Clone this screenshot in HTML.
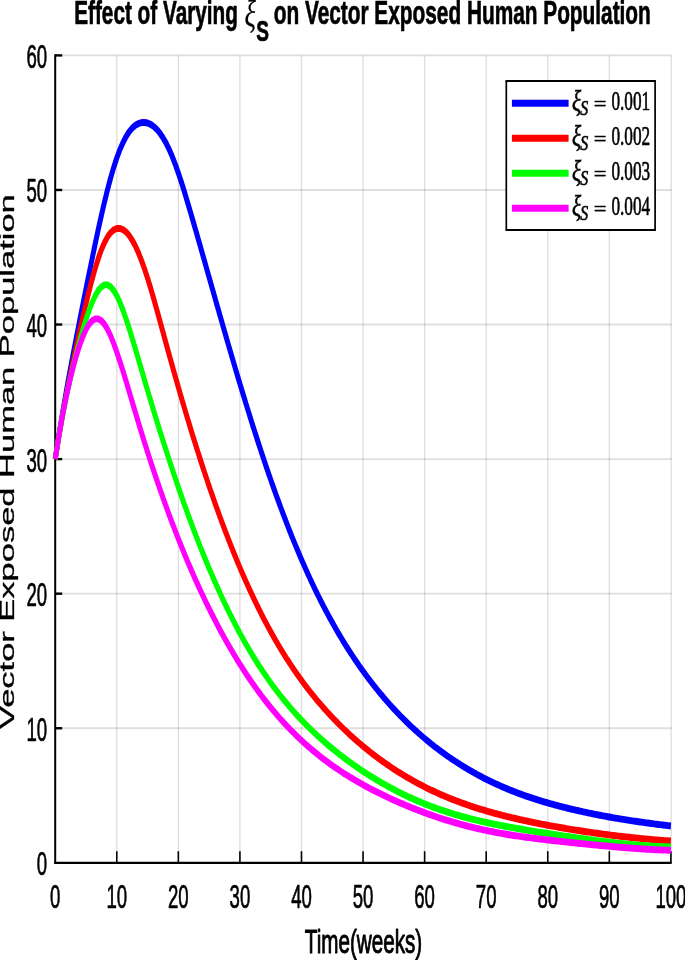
<!DOCTYPE html>
<html lang="en"><head><meta charset="utf-8"><title>Effect of Varying xi_S on Vector Exposed Human Population</title>
<style>
html,body{margin:0;padding:0;background:#fff;}
body{width:685px;height:960px;overflow:hidden;position:relative;}
svg{display:block;position:absolute;left:0;top:0;}
text{font-family:"Liberation Sans",sans-serif;fill:#000;}
.ser{font-family:"Liberation Serif",serif;}
</style></head><body>
<svg width="685" height="960" viewBox="0 0 685 960">
<rect x="0" y="0" width="685" height="960" fill="#ffffff"/>
<g stroke="#000" stroke-opacity="0.125" stroke-width="1.4" fill="none"><line x1="116.77" y1="55.40" x2="116.77" y2="862.80"/><line x1="178.34" y1="55.40" x2="178.34" y2="862.80"/><line x1="239.91" y1="55.40" x2="239.91" y2="862.80"/><line x1="301.48" y1="55.40" x2="301.48" y2="862.80"/><line x1="363.05" y1="55.40" x2="363.05" y2="862.80"/><line x1="424.62" y1="55.40" x2="424.62" y2="862.80"/><line x1="486.19" y1="55.40" x2="486.19" y2="862.80"/><line x1="547.76" y1="55.40" x2="547.76" y2="862.80"/><line x1="609.33" y1="55.40" x2="609.33" y2="862.80"/><line x1="671.20" y1="55.40" x2="671.20" y2="862.80"/></g>
<g stroke="#000" stroke-opacity="0.125" stroke-width="1.9" fill="none"><line x1="55.20" y1="728.23" x2="671.50" y2="728.23"/><line x1="55.20" y1="593.67" x2="671.50" y2="593.67"/><line x1="55.20" y1="459.10" x2="671.50" y2="459.10"/><line x1="55.20" y1="324.53" x2="671.50" y2="324.53"/><line x1="55.20" y1="189.97" x2="671.50" y2="189.97"/><line x1="55.20" y1="55.40" x2="671.50" y2="55.40"/></g>
<g stroke="#000" fill="none"><line x1="55.20" y1="54.20" x2="55.20" y2="863.90" stroke-width="2"/><line x1="54.20" y1="862.80" x2="671.70" y2="862.80" stroke-width="2.2"/><line x1="116.77" y1="862.80" x2="116.77" y2="851.20" stroke-width="1.6"/><line x1="178.34" y1="862.80" x2="178.34" y2="851.20" stroke-width="1.6"/><line x1="239.91" y1="862.80" x2="239.91" y2="851.20" stroke-width="1.6"/><line x1="301.48" y1="862.80" x2="301.48" y2="851.20" stroke-width="1.6"/><line x1="363.05" y1="862.80" x2="363.05" y2="851.20" stroke-width="1.6"/><line x1="424.62" y1="862.80" x2="424.62" y2="851.20" stroke-width="1.6"/><line x1="486.19" y1="862.80" x2="486.19" y2="851.20" stroke-width="1.6"/><line x1="547.76" y1="862.80" x2="547.76" y2="851.20" stroke-width="1.6"/><line x1="609.33" y1="862.80" x2="609.33" y2="851.20" stroke-width="1.6"/><line x1="670.90" y1="862.80" x2="670.90" y2="851.20" stroke-width="1.6"/><line x1="55.20" y1="728.23" x2="62.20" y2="728.23" stroke-width="2.4"/><line x1="55.20" y1="593.67" x2="62.20" y2="593.67" stroke-width="2.4"/><line x1="55.20" y1="459.10" x2="62.20" y2="459.10" stroke-width="2.4"/><line x1="55.20" y1="324.53" x2="62.20" y2="324.53" stroke-width="2.4"/><line x1="55.20" y1="189.97" x2="62.20" y2="189.97" stroke-width="2.4"/><line x1="55.20" y1="55.40" x2="62.20" y2="55.40" stroke-width="2.4"/></g>
<g transform="scale(0.72,1)"><polyline points="76.67,459.10 78.80,449.12 80.94,439.14 83.08,429.65 85.22,420.16 87.36,411.10 89.49,402.03 91.63,393.32 93.77,384.61 95.91,376.20 98.05,367.79 100.18,359.62 102.32,351.44 104.46,343.45 106.60,335.46 108.73,327.60 110.87,319.75 113.01,311.99 115.15,304.23 117.29,296.55 119.42,288.86 121.56,281.25 123.70,273.64 125.84,266.11 127.97,258.59 130.11,251.19 132.25,243.79 134.39,236.57 136.53,229.34 138.66,222.37 140.80,215.40 142.94,208.75 145.08,202.10 147.22,195.85 149.35,189.59 151.49,183.80 153.63,178.01 155.77,172.74 157.90,167.47 160.04,162.75 162.18,158.03 164.32,153.90 166.46,149.76 168.59,146.21 170.73,142.66 172.87,139.69 175.01,136.72 177.15,134.31 179.28,131.90 181.42,130.02 183.56,128.14 185.70,126.76 187.83,125.39 189.97,124.47 192.11,123.56 194.25,123.07 196.39,122.59 198.52,122.51 200.66,122.43 202.80,122.73 204.94,123.03 207.08,123.71 209.21,124.39 211.35,125.45 213.49,126.51 215.63,127.95 217.76,129.39 219.90,131.23 222.04,133.08 224.18,135.34 226.32,137.60 228.45,140.29 230.59,142.97 232.73,146.10 234.87,149.22 237.01,152.78 239.14,156.34 241.28,160.30 243.42,164.27 245.56,168.61 247.69,172.95 249.83,177.61 251.97,182.28 254.11,187.20 256.25,192.13 258.38,197.24 260.52,202.35 262.66,207.58 264.80,212.81 266.94,218.11 269.07,223.40 271.21,228.75 273.35,234.09 275.49,239.47 277.62,244.84 279.76,250.25 281.90,255.65 284.04,261.07 286.18,266.48 288.31,271.91 290.45,277.34 292.59,282.76 294.73,288.19 296.86,293.61 299.00,299.02 301.14,304.43 303.28,309.83 305.42,315.22 307.55,320.60 309.69,325.96 311.83,331.32 313.97,336.65 316.11,341.97 318.24,347.26 320.38,352.55 322.52,357.80 324.66,363.05 326.79,368.25 328.93,373.45 331.07,378.60 333.21,383.75 335.35,388.84 337.48,393.94 339.62,398.97 341.76,404.01 343.90,408.99 346.04,413.96 348.17,418.87 350.31,423.78 352.45,428.62 354.59,433.46 356.72,438.23 358.86,443.00 361.00,447.69 363.14,452.39 365.28,457.01 367.41,461.63 369.55,466.17 371.69,470.71 373.83,475.17 375.97,479.63 378.10,484.01 380.24,488.38 382.38,492.68 384.52,496.97 386.65,501.18 388.79,505.39 390.93,509.52 393.07,513.64 395.21,517.68 397.34,521.72 399.48,525.67 401.62,529.62 403.76,533.49 405.90,537.35 408.03,541.13 410.17,544.91 412.31,548.60 414.45,552.29 416.58,555.89 418.72,559.50 420.86,563.01 423.00,566.53 425.14,569.96 427.27,573.40 429.41,576.74 431.55,580.09 433.69,583.36 435.82,586.62 437.96,589.81 440.10,592.99 442.24,596.09 444.38,599.20 446.51,602.22 448.65,605.24 450.79,608.19 452.93,611.14 455.07,614.01 457.20,616.88 459.34,619.68 461.48,622.47 463.62,625.20 465.75,627.92 467.89,630.58 470.03,633.24 472.17,635.82 474.31,638.41 476.44,640.93 478.58,643.45 480.72,645.91 482.86,648.37 485.00,650.76 487.13,653.15 489.27,655.49 491.41,657.82 493.55,660.10 495.68,662.37 497.82,664.59 499.96,666.81 502.10,668.97 504.24,671.13 506.37,673.24 508.51,675.35 510.65,677.41 512.79,679.47 514.93,681.47 517.06,683.48 519.20,685.43 521.34,687.39 523.48,689.30 525.61,691.21 527.75,693.07 529.89,694.93 532.03,696.75 534.17,698.56 536.30,700.34 538.44,702.11 540.58,703.83 542.72,705.56 544.86,707.25 546.99,708.93 549.13,710.58 551.27,712.22 553.41,713.83 555.54,715.43 557.68,717.00 559.82,718.56 561.96,720.09 564.10,721.62 566.23,723.11 568.37,724.60 570.51,726.05 572.65,727.50 574.79,728.92 576.92,730.34 579.06,731.72 581.20,733.10 583.34,734.45 585.47,735.80 587.61,737.12 589.75,738.43 591.89,739.71 594.03,741.00 596.16,742.25 598.30,743.50 600.44,744.72 602.58,745.95 604.71,747.14 606.85,748.33 608.99,749.49 611.13,750.65 613.27,751.79 615.40,752.92 617.54,754.02 619.68,755.13 621.82,756.21 623.96,757.28 626.09,758.33 628.23,759.39 630.37,760.41 632.51,761.43 634.64,762.43 636.78,763.43 638.92,764.40 641.06,765.38 643.20,766.32 645.33,767.27 647.47,768.20 649.61,769.12 651.75,770.02 653.89,770.92 656.02,771.80 658.16,772.67 660.30,773.52 662.44,774.38 664.57,775.21 666.71,776.04 668.85,776.85 670.99,777.65 673.13,778.44 675.26,779.23 677.40,779.99 679.54,780.76 681.68,781.50 683.82,782.24 685.95,782.97 688.09,783.69 690.23,784.39 692.37,785.09 694.50,785.78 696.64,786.46 698.78,787.12 700.92,787.79 703.06,788.43 705.19,789.08 707.33,789.71 709.47,790.33 711.61,790.94 713.75,791.55 715.88,792.14 718.02,792.74 720.16,793.31 722.30,793.89 724.43,794.45 726.57,795.01 728.71,795.55 730.85,796.09 732.99,796.62 735.12,797.15 737.26,797.66 739.40,798.18 741.54,798.68 743.67,799.18 745.81,799.67 747.95,800.15 750.09,800.63 752.23,801.10 754.36,801.56 756.50,802.02 758.64,802.47 760.78,802.92 762.92,803.36 765.05,803.80 767.19,804.22 769.33,804.65 771.47,805.07 773.60,805.48 775.74,805.89 777.88,806.30 780.02,806.69 782.16,807.09 784.29,807.47 786.43,807.86 788.57,808.24 790.71,808.61 792.85,808.98 794.98,809.35 797.12,809.71 799.26,810.07 801.40,810.42 803.53,810.77 805.67,811.12 807.81,811.46 809.95,811.80 812.09,812.13 814.22,812.46 816.36,812.79 818.50,813.11 820.64,813.43 822.78,813.74 824.91,814.06 827.05,814.37 829.19,814.67 831.33,814.97 833.46,815.27 835.60,815.57 837.74,815.86 839.88,816.15 842.02,816.43 844.15,816.72 846.29,817.00 848.43,817.27 850.57,817.55 852.71,817.81 854.84,818.08 856.98,818.35 859.12,818.61 861.26,818.87 863.39,819.12 865.53,819.37 867.67,819.63 869.81,819.87 871.95,820.12 874.08,820.36 876.22,820.60 878.36,820.83 880.50,821.07 882.64,821.30 884.77,821.53 886.91,821.75 889.05,821.97 891.19,822.19 893.32,822.41 895.46,822.63 897.60,822.84 899.74,823.05 901.88,823.26 904.01,823.47 906.15,823.67 908.29,823.87 910.43,824.07 912.56,824.27 914.70,824.46 916.84,824.65 918.98,824.84 921.12,825.03 923.25,825.22 925.39,825.40 927.53,825.58 929.67,825.76 931.81,825.94" fill="none" stroke="#0000ff" stroke-width="6.9" stroke-linejoin="round" stroke-linecap="butt"/></g>
<g transform="scale(0.72,1)"><polyline points="76.67,459.10 78.80,449.40 80.94,439.70 83.08,430.70 85.22,421.70 87.36,413.28 89.49,404.85 91.63,396.88 93.77,388.90 95.91,381.28 98.05,373.65 100.18,366.29 102.32,358.92 104.46,351.76 106.60,344.59 108.73,337.60 110.87,330.61 113.01,323.79 115.15,316.98 117.29,310.38 119.42,303.78 121.56,297.46 123.70,291.14 125.84,285.19 127.97,279.23 130.11,273.74 132.25,268.25 134.39,263.32 136.53,258.38 138.66,254.09 140.80,249.80 142.94,246.20 145.08,242.61 147.22,239.75 149.35,236.89 151.49,234.77 153.63,232.66 155.77,231.27 157.90,229.88 160.04,229.18 162.18,228.49 164.32,228.45 166.46,228.41 168.59,229.00 170.73,229.58 172.87,230.76 175.01,231.94 177.15,233.70 179.28,235.45 181.42,237.76 183.56,240.07 185.70,242.92 187.83,245.77 189.97,249.13 192.11,252.50 194.25,256.35 196.39,260.20 198.52,264.49 200.66,268.79 202.80,273.47 204.94,278.16 207.08,283.18 209.21,288.19 211.35,293.47 213.49,298.74 215.63,304.20 217.76,309.66 219.90,315.24 222.04,320.81 224.18,326.44 226.32,332.07 228.45,337.70 230.59,343.33 232.73,348.91 234.87,354.49 237.01,360.02 239.14,365.54 241.28,370.99 243.42,376.45 245.56,381.84 247.69,387.22 249.83,392.53 251.97,397.85 254.11,403.08 256.25,408.32 258.38,413.48 260.52,418.63 262.66,423.71 264.80,428.79 266.94,433.78 269.07,438.78 271.21,443.69 273.35,448.60 275.49,453.42 277.62,458.25 279.76,462.99 281.90,467.73 284.04,472.38 286.18,477.03 288.31,481.60 290.45,486.16 292.59,490.64 294.73,495.11 296.86,499.50 299.00,503.89 301.14,508.18 303.28,512.48 305.42,516.69 307.55,520.89 309.69,525.01 311.83,529.13 313.97,533.16 316.11,537.19 318.24,541.13 320.38,545.06 322.52,548.91 324.66,552.76 326.79,556.52 328.93,560.28 331.07,563.95 333.21,567.62 335.35,571.21 337.48,574.79 339.62,578.28 341.76,581.78 343.90,585.19 346.04,588.60 348.17,591.92 350.31,595.24 352.45,598.48 354.59,601.71 356.72,604.86 358.86,608.02 361.00,611.09 363.14,614.16 365.28,617.14 367.41,620.13 369.55,623.04 371.69,625.94 373.83,628.77 375.97,631.60 378.10,634.35 380.24,637.10 382.38,639.78 384.52,642.45 386.65,645.06 388.79,647.66 390.93,650.19 393.07,652.72 395.21,655.18 397.34,657.64 399.48,660.03 401.62,662.42 403.76,664.75 405.90,667.07 408.03,669.34 410.17,671.60 412.31,673.80 414.45,676.00 416.58,678.14 418.72,680.28 420.86,682.36 423.00,684.44 425.14,686.47 427.27,688.50 429.41,690.47 431.55,692.44 433.69,694.36 435.82,696.29 437.96,698.16 440.10,700.03 442.24,701.85 444.38,703.67 446.51,705.45 448.65,707.23 450.79,708.96 452.93,710.69 455.07,712.38 457.20,714.07 459.34,715.71 461.48,717.36 463.62,718.97 465.75,720.57 467.89,722.14 470.03,723.71 472.17,725.24 474.31,726.77 476.44,728.26 478.58,729.75 480.72,731.21 482.86,732.67 485.00,734.09 487.13,735.52 489.27,736.91 491.41,738.30 493.55,739.66 495.68,741.02 497.82,742.34 499.96,743.67 502.10,744.96 504.24,746.26 506.37,747.53 508.51,748.79 510.65,750.03 512.79,751.26 514.93,752.47 517.06,753.68 519.20,754.86 521.34,756.04 523.48,757.19 525.61,758.34 527.75,759.46 529.89,760.59 532.03,761.69 534.17,762.78 536.30,763.86 538.44,764.93 540.58,765.97 542.72,767.02 544.86,768.04 546.99,769.06 549.13,770.06 551.27,771.05 553.41,772.02 555.54,773.00 557.68,773.94 559.82,774.89 561.96,775.81 564.10,776.74 566.23,777.64 568.37,778.54 570.51,779.42 572.65,780.29 574.79,781.15 576.92,782.00 579.06,782.84 581.20,783.67 583.34,784.48 585.47,785.29 587.61,786.08 589.75,786.87 591.89,787.64 594.03,788.41 596.16,789.16 598.30,789.91 600.44,790.64 602.58,791.37 604.71,792.08 606.85,792.79 608.99,793.48 611.13,794.17 613.27,794.84 615.40,795.51 617.54,796.16 619.68,796.81 621.82,797.45 623.96,798.08 626.09,798.70 628.23,799.32 630.37,799.92 632.51,800.52 634.64,801.11 636.78,801.69 638.92,802.26 641.06,802.83 643.20,803.38 645.33,803.93 647.47,804.47 649.61,805.01 651.75,805.53 653.89,806.06 656.02,806.56 658.16,807.07 660.30,807.57 662.44,808.07 664.57,808.55 666.71,809.03 668.85,809.50 670.99,809.97 673.13,810.43 675.26,810.88 677.40,811.33 679.54,811.78 681.68,812.21 683.82,812.65 685.95,813.07 688.09,813.49 690.23,813.91 692.37,814.32 694.50,814.72 696.64,815.12 698.78,815.52 700.92,815.91 703.06,816.29 705.19,816.68 707.33,817.05 709.47,817.43 711.61,817.79 713.75,818.16 715.88,818.52 718.02,818.88 720.16,819.23 722.30,819.58 724.43,819.92 726.57,820.26 728.71,820.60 730.85,820.93 732.99,821.26 735.12,821.59 737.26,821.91 739.40,822.23 741.54,822.55 743.67,822.86 745.81,823.17 747.95,823.48 750.09,823.79 752.23,824.09 754.36,824.39 756.50,824.68 758.64,824.98 760.78,825.27 762.92,825.55 765.05,825.84 767.19,826.12 769.33,826.40 771.47,826.68 773.60,826.95 775.74,827.22 777.88,827.49 780.02,827.76 782.16,828.03 784.29,828.29 786.43,828.55 788.57,828.81 790.71,829.06 792.85,829.31 794.98,829.57 797.12,829.81 799.26,830.06 801.40,830.30 803.53,830.55 805.67,830.79 807.81,831.02 809.95,831.26 812.09,831.49 814.22,831.72 816.36,831.95 818.50,832.18 820.64,832.40 822.78,832.63 824.91,832.85 827.05,833.06 829.19,833.28 831.33,833.49 833.46,833.71 835.60,833.91 837.74,834.12 839.88,834.33 842.02,834.53 844.15,834.73 846.29,834.93 848.43,835.12 850.57,835.32 852.71,835.51 854.84,835.70 856.98,835.89 859.12,836.07 861.26,836.26 863.39,836.44 865.53,836.62 867.67,836.79 869.81,836.97 871.95,837.14 874.08,837.31 876.22,837.48 878.36,837.64 880.50,837.81 882.64,837.96 884.77,838.12 886.91,838.28 889.05,838.43 891.19,838.58 893.32,838.73 895.46,838.88 897.60,839.02 899.74,839.17 901.88,839.31 904.01,839.44 906.15,839.58 908.29,839.71 910.43,839.84 912.56,839.97 914.70,840.09 916.84,840.21 918.98,840.34 921.12,840.45 923.25,840.57 925.39,840.68 927.53,840.79 929.67,840.90 931.81,841.00" fill="none" stroke="#ff0000" stroke-width="6.9" stroke-linejoin="round" stroke-linecap="butt"/></g>
<g transform="scale(0.72,1)"><polyline points="76.67,459.10 78.80,449.48 80.94,439.86 83.08,431.06 85.22,422.25 87.36,414.14 89.49,406.04 91.63,398.54 93.77,391.04 95.91,384.07 98.05,377.09 100.18,370.56 102.32,364.04 104.46,357.91 106.60,351.78 108.73,346.03 110.87,340.27 113.01,334.89 115.15,329.51 117.29,324.52 119.42,319.54 121.56,315.01 123.70,310.48 125.84,306.48 127.97,302.48 130.11,299.11 132.25,295.75 134.39,293.10 136.53,290.46 138.66,288.63 140.80,286.80 142.94,285.87 145.08,284.93 147.22,284.92 149.35,284.91 151.49,285.83 153.63,286.74 155.77,288.55 157.90,290.35 160.04,292.96 162.18,295.57 164.32,298.89 166.46,302.21 168.59,306.12 170.73,310.03 172.87,314.41 175.01,318.79 177.15,323.52 179.28,328.25 181.42,333.23 183.56,338.20 185.70,343.33 187.83,348.46 189.97,353.67 192.11,358.88 194.25,364.12 196.39,369.37 198.52,374.61 200.66,379.85 202.80,385.07 204.94,390.29 207.08,395.45 209.21,400.62 211.35,405.72 213.49,410.82 215.63,415.85 217.76,420.89 219.90,425.85 222.04,430.81 224.18,435.70 226.32,440.59 228.45,445.41 230.59,450.22 232.73,454.96 234.87,459.70 237.01,464.36 239.14,469.03 241.28,473.61 243.42,478.19 245.56,482.70 247.69,487.21 249.83,491.63 251.97,496.06 254.11,500.41 256.25,504.75 258.38,509.02 260.52,513.28 262.66,517.47 264.80,521.65 266.94,525.75 269.07,529.85 271.21,533.87 273.35,537.89 275.49,541.83 277.62,545.77 279.76,549.62 281.90,553.48 284.04,557.25 286.18,561.02 288.31,564.71 290.45,568.40 292.59,572.01 294.73,575.61 296.86,579.14 299.00,582.66 301.14,586.10 303.28,589.55 305.42,592.90 307.55,596.26 309.69,599.54 311.83,602.82 313.97,606.02 316.11,609.22 318.24,612.33 320.38,615.45 322.52,618.49 324.66,621.53 326.79,624.48 328.93,627.44 331.07,630.32 333.21,633.20 335.35,636.01 337.48,638.81 339.62,641.54 341.76,644.26 343.90,646.92 346.04,649.57 348.17,652.15 350.31,654.73 352.45,657.23 354.59,659.74 356.72,662.17 358.86,664.61 361.00,666.98 363.14,669.34 365.28,671.64 367.41,673.94 369.55,676.18 371.69,678.41 373.83,680.58 375.97,682.75 378.10,684.86 380.24,686.97 382.38,689.01 384.52,691.06 386.65,693.05 388.79,695.04 390.93,696.97 393.07,698.91 395.21,700.79 397.34,702.67 399.48,704.49 401.62,706.32 403.76,708.10 405.90,709.87 408.03,711.60 410.17,713.33 412.31,715.01 414.45,716.70 416.58,718.33 418.72,719.97 420.86,721.57 423.00,723.16 425.14,724.72 427.27,726.27 429.41,727.79 431.55,729.30 433.69,730.78 435.82,732.26 437.96,733.70 440.10,735.14 442.24,736.54 444.38,737.95 446.51,739.33 448.65,740.70 450.79,742.04 452.93,743.38 455.07,744.69 457.20,746.00 459.34,747.28 461.48,748.57 463.62,749.82 465.75,751.07 467.89,752.29 470.03,753.52 472.17,754.72 474.31,755.92 476.44,757.09 478.58,758.26 480.72,759.41 482.86,760.55 485.00,761.68 487.13,762.80 489.27,763.90 491.41,765.00 493.55,766.07 495.68,767.14 497.82,768.20 499.96,769.25 502.10,770.28 504.24,771.31 506.37,772.31 508.51,773.32 510.65,774.31 512.79,775.29 514.93,776.26 517.06,777.22 519.20,778.16 521.34,779.11 523.48,780.03 525.61,780.95 527.75,781.85 529.89,782.75 532.03,783.63 534.17,784.51 536.30,785.37 538.44,786.23 540.58,787.07 542.72,787.91 544.86,788.73 546.99,789.55 549.13,790.35 551.27,791.15 553.41,791.93 555.54,792.71 557.68,793.47 559.82,794.23 561.96,794.97 564.10,795.72 566.23,796.44 568.37,797.16 570.51,797.86 572.65,798.57 574.79,799.25 576.92,799.93 579.06,800.60 581.20,801.27 583.34,801.91 585.47,802.56 587.61,803.19 589.75,803.82 591.89,804.43 594.03,805.04 596.16,805.64 598.30,806.23 600.44,806.81 602.58,807.38 604.71,807.94 606.85,808.50 608.99,809.04 611.13,809.59 613.27,810.11 615.40,810.64 617.54,811.15 619.68,811.66 621.82,812.16 623.96,812.65 626.09,813.13 628.23,813.61 630.37,814.08 632.51,814.54 634.64,814.99 636.78,815.44 638.92,815.88 641.06,816.32 643.20,816.74 645.33,817.17 647.47,817.58 649.61,817.99 651.75,818.39 653.89,818.79 656.02,819.17 658.16,819.56 660.30,819.93 662.44,820.31 664.57,820.67 666.71,821.04 668.85,821.39 670.99,821.75 673.13,822.09 675.26,822.44 677.40,822.77 679.54,823.11 681.68,823.43 683.82,823.76 685.95,824.08 688.09,824.39 690.23,824.70 692.37,825.01 694.50,825.32 696.64,825.62 698.78,825.92 700.92,826.21 703.06,826.50 705.19,826.79 707.33,827.08 709.47,827.36 711.61,827.64 713.75,827.92 715.88,828.19 718.02,828.46 720.16,828.73 722.30,829.00 724.43,829.26 726.57,829.53 728.71,829.79 730.85,830.05 732.99,830.30 735.12,830.56 737.26,830.81 739.40,831.07 741.54,831.32 743.67,831.57 745.81,831.81 747.95,832.06 750.09,832.31 752.23,832.55 754.36,832.79 756.50,833.03 758.64,833.27 760.78,833.51 762.92,833.75 765.05,833.99 767.19,834.23 769.33,834.46 771.47,834.70 773.60,834.93 775.74,835.16 777.88,835.39 780.02,835.62 782.16,835.85 784.29,836.08 786.43,836.31 788.57,836.54 790.71,836.76 792.85,836.99 794.98,837.21 797.12,837.43 799.26,837.65 801.40,837.87 803.53,838.09 805.67,838.31 807.81,838.53 809.95,838.74 812.09,838.96 814.22,839.17 816.36,839.38 818.50,839.59 820.64,839.80 822.78,840.01 824.91,840.22 827.05,840.42 829.19,840.62 831.33,840.82 833.46,841.02 835.60,841.22 837.74,841.41 839.88,841.60 842.02,841.80 844.15,841.98 846.29,842.17 848.43,842.35 850.57,842.54 852.71,842.71 854.84,842.89 856.98,843.07 859.12,843.24 861.26,843.41 863.39,843.57 865.53,843.73 867.67,843.90 869.81,844.05 871.95,844.21 874.08,844.36 876.22,844.50 878.36,844.65 880.50,844.79 882.64,844.93 884.77,845.06 886.91,845.19 889.05,845.32 891.19,845.44 893.32,845.56 895.46,845.67 897.60,845.78 899.74,845.89 901.88,845.99 904.01,846.09 906.15,846.18 908.29,846.27 910.43,846.35 912.56,846.43 914.70,846.51 916.84,846.58 918.98,846.65 921.12,846.70 923.25,846.76 925.39,846.81 927.53,846.86 929.67,846.89 931.81,846.93" fill="none" stroke="#00ff00" stroke-width="6.9" stroke-linejoin="round" stroke-linecap="butt"/></g>
<g transform="scale(0.72,1)"><polyline points="76.67,459.10 78.80,449.43 80.94,439.75 83.08,430.88 85.22,422.01 87.36,413.90 89.49,405.79 91.63,398.38 93.77,390.98 95.91,384.24 98.05,377.51 100.18,371.41 102.32,365.31 104.46,359.85 106.60,354.38 108.73,349.55 110.87,344.73 113.01,340.58 115.15,336.43 117.29,333.00 119.42,329.58 121.56,326.94 123.70,324.30 125.84,322.51 127.97,320.71 130.11,319.81 132.25,318.91 134.39,318.91 136.53,318.92 138.66,319.83 140.80,320.74 142.94,322.50 145.08,324.27 147.22,326.82 149.35,329.36 151.49,332.59 153.63,335.83 155.77,339.63 157.90,343.44 160.04,347.70 162.18,351.96 164.32,356.58 166.46,361.19 168.59,366.06 170.73,370.93 172.87,375.97 175.01,381.01 177.15,386.15 179.28,391.28 181.42,396.46 183.56,401.64 185.70,406.82 187.83,411.99 189.97,417.12 192.11,422.25 194.25,427.31 196.39,432.37 198.52,437.34 200.66,442.30 202.80,447.17 204.94,452.04 207.08,456.80 209.21,461.57 211.35,466.23 213.49,470.90 215.63,475.47 217.76,480.04 219.90,484.51 222.04,488.98 224.18,493.36 226.32,497.74 228.45,502.03 230.59,506.32 232.73,510.51 234.87,514.71 237.01,518.82 239.14,522.92 241.28,526.94 243.42,530.96 245.56,534.90 247.69,538.83 249.83,542.68 251.97,546.53 254.11,550.29 256.25,554.06 258.38,557.74 260.52,561.43 262.66,565.03 264.80,568.63 266.94,572.16 269.07,575.68 271.21,579.13 273.35,582.58 275.49,585.95 277.62,589.32 279.76,592.61 281.90,595.91 284.04,599.13 286.18,602.35 288.31,605.50 290.45,608.65 292.59,611.73 294.73,614.81 296.86,617.82 299.00,620.83 301.14,623.76 303.28,626.70 305.42,629.57 307.55,632.45 309.69,635.25 311.83,638.05 313.97,640.79 316.11,643.53 318.24,646.20 320.38,648.88 322.52,651.48 324.66,654.09 326.79,656.64 328.93,659.19 331.07,661.67 333.21,664.15 335.35,666.58 337.48,669.00 339.62,671.36 341.76,673.73 343.90,676.03 346.04,678.33 348.17,680.58 350.31,682.82 352.45,685.01 354.59,687.20 356.72,689.33 358.86,691.46 361.00,693.54 363.14,695.61 365.28,697.64 367.41,699.66 369.55,701.63 371.69,703.59 373.83,705.51 375.97,707.42 378.10,709.29 380.24,711.15 382.38,712.97 384.52,714.78 386.65,716.54 388.79,718.31 390.93,720.03 393.07,721.74 395.21,723.41 397.34,725.08 399.48,726.70 401.62,728.33 403.76,729.91 405.90,731.48 408.03,733.02 410.17,734.56 412.31,736.05 414.45,737.54 416.58,738.99 418.72,740.44 420.86,741.86 423.00,743.27 425.14,744.64 427.27,746.01 429.41,747.35 431.55,748.68 433.69,749.98 435.82,751.28 437.96,752.55 440.10,753.81 442.24,755.04 444.38,756.27 446.51,757.47 448.65,758.66 450.79,759.83 452.93,760.99 455.07,762.13 457.20,763.26 459.34,764.37 461.48,765.47 463.62,766.55 465.75,767.62 467.89,768.67 470.03,769.72 472.17,770.74 474.31,771.76 476.44,772.76 478.58,773.76 480.72,774.73 482.86,775.70 485.00,776.65 487.13,777.60 489.27,778.53 491.41,779.45 493.55,780.36 495.68,781.26 497.82,782.15 499.96,783.03 502.10,783.90 504.24,784.76 506.37,785.61 508.51,786.45 510.65,787.28 512.79,788.10 514.93,788.91 517.06,789.72 519.20,790.51 521.34,791.30 523.48,792.08 525.61,792.85 527.75,793.61 529.89,794.37 532.03,795.11 534.17,795.85 536.30,796.58 538.44,797.31 540.58,798.02 542.72,798.74 544.86,799.44 546.99,800.14 549.13,800.82 551.27,801.51 553.41,802.18 555.54,802.85 557.68,803.51 559.82,804.17 561.96,804.82 564.10,805.46 566.23,806.10 568.37,806.73 570.51,807.35 572.65,807.97 574.79,808.58 576.92,809.19 579.06,809.78 581.20,810.38 583.34,810.96 585.47,811.55 587.61,812.12 589.75,812.69 591.89,813.25 594.03,813.81 596.16,814.36 598.30,814.91 600.44,815.44 602.58,815.98 604.71,816.50 606.85,817.02 608.99,817.54 611.13,818.05 613.27,818.55 615.40,819.05 617.54,819.53 619.68,820.02 621.82,820.49 623.96,820.97 626.09,821.43 628.23,821.89 630.37,822.34 632.51,822.79 634.64,823.23 636.78,823.67 638.92,824.09 641.06,824.52 643.20,824.93 645.33,825.35 647.47,825.75 649.61,826.15 651.75,826.54 653.89,826.93 656.02,827.30 658.16,827.68 660.30,828.04 662.44,828.41 664.57,828.76 666.71,829.11 668.85,829.46 670.99,829.80 673.13,830.13 675.26,830.46 677.40,830.78 679.54,831.09 681.68,831.40 683.82,831.71 685.95,832.01 688.09,832.30 690.23,832.59 692.37,832.88 694.50,833.15 696.64,833.43 698.78,833.70 700.92,833.97 703.06,834.23 705.19,834.48 707.33,834.73 709.47,834.98 711.61,835.22 713.75,835.47 715.88,835.70 718.02,835.93 720.16,836.16 722.30,836.39 724.43,836.61 726.57,836.83 728.71,837.04 730.85,837.25 732.99,837.46 735.12,837.67 737.26,837.87 739.40,838.07 741.54,838.27 743.67,838.46 745.81,838.66 747.95,838.85 750.09,839.04 752.23,839.22 754.36,839.41 756.50,839.59 758.64,839.77 760.78,839.95 762.92,840.13 765.05,840.31 767.19,840.48 769.33,840.66 771.47,840.83 773.60,841.00 775.74,841.17 777.88,841.34 780.02,841.51 782.16,841.68 784.29,841.84 786.43,842.01 788.57,842.17 790.71,842.34 792.85,842.50 794.98,842.66 797.12,842.82 799.26,842.98 801.40,843.14 803.53,843.30 805.67,843.46 807.81,843.62 809.95,843.78 812.09,843.93 814.22,844.09 816.36,844.24 818.50,844.39 820.64,844.55 822.78,844.70 824.91,844.85 827.05,845.00 829.19,845.15 831.33,845.30 833.46,845.45 835.60,845.59 837.74,845.74 839.88,845.88 842.02,846.03 844.15,846.17 846.29,846.31 848.43,846.45 850.57,846.58 852.71,846.72 854.84,846.86 856.98,846.99 859.12,847.12 861.26,847.25 863.39,847.38 865.53,847.51 867.67,847.63 869.81,847.76 871.95,847.88 874.08,848.00 876.22,848.12 878.36,848.23 880.50,848.35 882.64,848.46 884.77,848.57 886.91,848.67 889.05,848.78 891.19,848.88 893.32,848.98 895.46,849.08 897.60,849.18 899.74,849.27 901.88,849.36 904.01,849.44 906.15,849.53 908.29,849.61 910.43,849.69 912.56,849.76 914.70,849.84 916.84,849.90 918.98,849.97 921.12,850.03 923.25,850.09 925.39,850.15 927.53,850.20 929.67,850.25 931.81,850.30" fill="none" stroke="#ff00ff" stroke-width="6.9" stroke-linejoin="round" stroke-linecap="butt"/></g>
<g stroke="#000" stroke-width="0.7" stroke-linejoin="round"><text transform="translate(55.20,907.7) scale(0.56,1)" font-size="33.2" text-anchor="middle">0</text><text transform="translate(116.77,907.7) scale(0.56,1)" font-size="33.2" text-anchor="middle">10</text><text transform="translate(178.34,907.7) scale(0.56,1)" font-size="33.2" text-anchor="middle">20</text><text transform="translate(239.91,907.7) scale(0.56,1)" font-size="33.2" text-anchor="middle">30</text><text transform="translate(301.48,907.7) scale(0.56,1)" font-size="33.2" text-anchor="middle">40</text><text transform="translate(363.05,907.7) scale(0.56,1)" font-size="33.2" text-anchor="middle">50</text><text transform="translate(424.62,907.7) scale(0.56,1)" font-size="33.2" text-anchor="middle">60</text><text transform="translate(486.19,907.7) scale(0.56,1)" font-size="33.2" text-anchor="middle">70</text><text transform="translate(547.76,907.7) scale(0.56,1)" font-size="33.2" text-anchor="middle">80</text><text transform="translate(609.33,907.7) scale(0.56,1)" font-size="33.2" text-anchor="middle">90</text><text transform="translate(670.90,907.7) scale(0.56,1)" font-size="33.2" text-anchor="middle">100</text><text transform="translate(47.1,875.30) scale(0.56,1)" font-size="33.2" text-anchor="end">0</text><text transform="translate(47.1,740.73) scale(0.56,1)" font-size="33.2" text-anchor="end">10</text><text transform="translate(47.1,606.17) scale(0.56,1)" font-size="33.2" text-anchor="end">20</text><text transform="translate(47.1,471.60) scale(0.56,1)" font-size="33.2" text-anchor="end">30</text><text transform="translate(47.1,337.03) scale(0.56,1)" font-size="33.2" text-anchor="end">40</text><text transform="translate(47.1,202.47) scale(0.56,1)" font-size="33.2" text-anchor="end">50</text><text transform="translate(47.1,67.90) scale(0.56,1)" font-size="33.2" text-anchor="end">60</text>
<text transform="translate(363.5,953.3) scale(0.615,1)" font-size="33.6" stroke-width="1.0" text-anchor="middle">Time(weeks)</text>
<text transform="translate(14.25,461.6) rotate(-90) scale(1.0,0.578)" font-size="34.5" stroke-width="0.5" text-anchor="middle">Vector Exposed Human Population</text>
<text transform="translate(237.9,24) scale(0.629,1)" font-size="33" font-weight="bold" text-anchor="end">Effect of Varying</text><text class="ser" transform="translate(244.6,26.6) scale(0.7,1)" font-size="38" font-style="italic" stroke-width="0.2">ξ</text><text transform="translate(256.2,41) scale(0.6357,1)" font-size="30" font-weight="bold">S</text><text transform="translate(650.8,24) scale(0.6313,1)" font-size="33" font-weight="bold" text-anchor="end">on Vector Exposed Human Population</text>
</g>
<rect x="506.3" y="81" width="148.8" height="149" fill="#fff" stroke="none"/><g stroke="#000" fill="none"><path d="M505.5 81H655.9M505.5 230H655.9" stroke-width="2.2"/><path d="M506.3 81V230M655.1 81V230" stroke-width="1.7"/></g>
<g class="ser" stroke="#000" stroke-width="0.65" font-size="28.2"><line x1="511.9" y1="103.20" x2="568.6" y2="103.20" stroke="#0000ff" stroke-width="6.9"/><text class="ser" font-style="italic" font-size="29.6" transform="translate(571.9,110.60) scale(0.72,1)">ξ</text><text class="ser" font-style="italic" font-size="21.5" transform="translate(580.2,114.80) scale(0.74,1)">S</text><text class="ser" transform="translate(593.7,110.70) scale(0.8,0.75)">=</text><text class="ser" x="611.4" y="110.30" textLength="38.8" lengthAdjust="spacingAndGlyphs">0.001</text>
<line x1="511.9" y1="138.23" x2="568.6" y2="138.23" stroke="#ff0000" stroke-width="6.9"/><text class="ser" font-style="italic" font-size="29.6" transform="translate(571.9,145.63) scale(0.72,1)">ξ</text><text class="ser" font-style="italic" font-size="21.5" transform="translate(580.2,149.83) scale(0.74,1)">S</text><text class="ser" transform="translate(593.7,145.73) scale(0.8,0.75)">=</text><text class="ser" x="611.4" y="145.33" textLength="38.8" lengthAdjust="spacingAndGlyphs">0.002</text>
<line x1="511.9" y1="173.26" x2="568.6" y2="173.26" stroke="#00ff00" stroke-width="6.9"/><text class="ser" font-style="italic" font-size="29.6" transform="translate(571.9,180.66) scale(0.72,1)">ξ</text><text class="ser" font-style="italic" font-size="21.5" transform="translate(580.2,184.86) scale(0.74,1)">S</text><text class="ser" transform="translate(593.7,180.76) scale(0.8,0.75)">=</text><text class="ser" x="611.4" y="180.36" textLength="38.8" lengthAdjust="spacingAndGlyphs">0.003</text>
<line x1="511.9" y1="208.29" x2="568.6" y2="208.29" stroke="#ff00ff" stroke-width="6.9"/><text class="ser" font-style="italic" font-size="29.6" transform="translate(571.9,215.69) scale(0.72,1)">ξ</text><text class="ser" font-style="italic" font-size="21.5" transform="translate(580.2,219.89) scale(0.74,1)">S</text><text class="ser" transform="translate(593.7,215.79) scale(0.8,0.75)">=</text><text class="ser" x="611.4" y="215.39" textLength="38.8" lengthAdjust="spacingAndGlyphs">0.004</text>
</g>
</svg></body></html>
